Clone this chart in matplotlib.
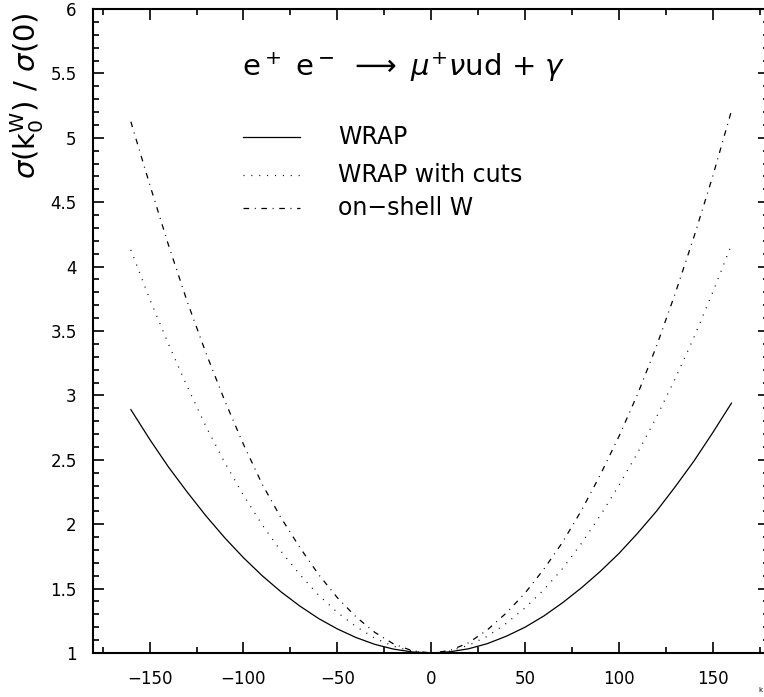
import matplotlib
matplotlib.use("Agg")
import matplotlib.pyplot as plt
from matplotlib.ticker import MultipleLocator

k0 = [-160, -150, -140, -130, -120, -110, -100, -90, -80, -70, -60, -50, -40, -30, -20, -10,
      0, 10, 20, 30, 40, 50, 60, 70, 80, 90, 100, 110, 120, 130, 140, 150, 160]
wrap = [2.89, 2.66, 2.445, 2.25, 2.065, 1.895, 1.74, 1.60, 1.475, 1.365, 1.268, 1.187, 1.12, 1.067, 1.03, 1.008,
        1.0, 1.009, 1.033, 1.073, 1.13, 1.20, 1.287, 1.39, 1.505, 1.632, 1.772, 1.93, 2.10, 2.29, 2.49, 2.71, 2.94]
wrap_cuts = [4.13, 3.75, 3.40, 3.07, 2.76, 2.48, 2.225, 1.995, 1.79, 1.61, 1.45, 1.315, 1.205, 1.115, 1.052, 1.013,
             1.0, 1.015, 1.06, 1.13, 1.23, 1.35, 1.49, 1.655, 1.85, 2.065, 2.30, 2.555, 2.83, 3.13, 3.45, 3.80, 4.17]
onshell = [5.125, 4.64, 4.17, 3.73, 3.33, 2.96, 2.62, 2.31, 2.05, 1.82, 1.61, 1.43, 1.28, 1.16, 1.07, 1.017,
           1.0, 1.019, 1.08, 1.18, 1.31, 1.465, 1.65, 1.86, 2.105, 2.38, 2.68, 3.01, 3.38, 3.79, 4.23, 4.70, 5.21]

labels = ["WRAP", "WRAP with cuts", "on\u2212shell W"]

fig = plt.figure(figsize=(7.64, 6.97), dpi=100)
W, H = 764.0, 697.0
left, right, bottom, top = 93.3, 769.0, 653.0, 9.0
ax = fig.add_axes([left / W, (H - bottom) / H, (right - left) / W, (bottom - top) / H])

lw = 0.9
styles = ["-", (0, (0.8, 5.5)), (0, (4.5, 4.5, 0.8, 4.5))]
for series, st in zip([wrap, wrap_cuts, onshell], styles):
    ax.plot(k0, series, color="black", lw=lw, linestyle=st)

ax.set_xlim(-180, 180)
ax.set_ylim(1, 6)
ax.xaxis.set_major_locator(MultipleLocator(50))
ax.xaxis.set_minor_locator(MultipleLocator(25))
ax.yaxis.set_major_locator(MultipleLocator(0.5))
ax.yaxis.set_minor_locator(MultipleLocator(0.1))
ax.yaxis.set_major_formatter(matplotlib.ticker.FuncFormatter(lambda v, p: ("%g" % v)))
ax.xaxis.set_major_formatter(matplotlib.ticker.FuncFormatter(lambda v, p: ("%g" % v).replace("-", "\u2212")))

ax.tick_params(which="both", direction="in", top=True, right=True, width=1.2, colors="black")
ax.tick_params(which="major", length=8, labelsize=12, pad=12)
ax.tick_params(which="minor", length=4.5)
for s in ax.spines.values():
    s.set_linewidth(1.5)

ax.set_ylabel(r"$\sigma(\mathrm{k}_0^{\mathrm{W}})$ / $\sigma(0)$", fontsize=21)
ax.yaxis.set_label_coords(-0.070, 0.866)

ax.text(0.459, 0.91, r"e$^+$ e$^-$ $\longrightarrow$ $\mu^{+}\nu$ud + $\gamma$",
        transform=ax.transAxes, fontsize=21, ha="center", va="center")

rows = [0.801, 0.742, 0.691]
for st, lab, yy in zip(styles, labels, rows):
    ax.plot([0.222, 0.306], [yy, yy], transform=ax.transAxes, color="black", lw=lw, linestyle=st)
    ax.text(0.362, yy, lab, transform=ax.transAxes, fontsize=17, ha="left", va="center")

fig.text(758 / W, 1 - 690 / H, "k", fontsize=5, ha="left", va="center")

fig.savefig("out.png", dpi=100)
